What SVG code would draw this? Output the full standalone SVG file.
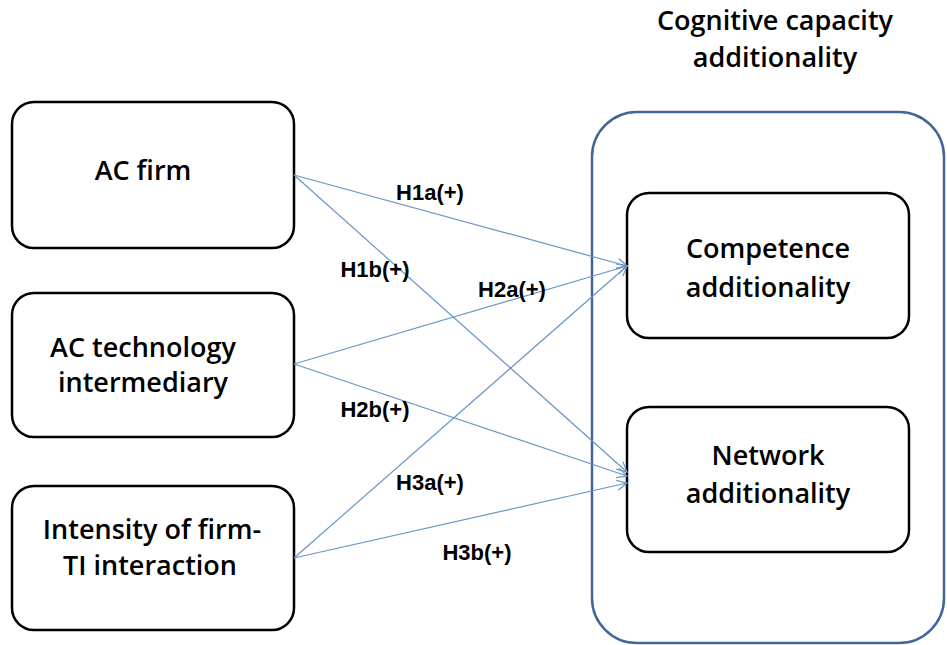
<svg xmlns="http://www.w3.org/2000/svg" width="947" height="645" viewBox="0 0 947 645">
<defs>
<style>
.box{fill:#fff;stroke:#000;stroke-width:2.5}
.cont{fill:none;stroke:#41679a;stroke-width:2.5}
.t{font-family:"Open Sans","Liberation Sans",sans-serif;font-size:27px;font-weight:600;fill:#000;text-anchor:middle}
.tt{font-family:"Open Sans","Liberation Sans",sans-serif;font-size:27px;font-weight:600;fill:#000;text-anchor:middle}
.lbl{font-family:"Liberation Sans",Arial,sans-serif;font-size:22px;font-weight:bold;fill:#000;text-anchor:middle}
.c{stroke:#6a95c5;stroke-width:1.2;fill:none;marker-end:url(#ah)}
</style>
<marker id="ah" viewBox="0 0 12 12" refX="11" refY="6" markerWidth="12" markerHeight="12" markerUnits="userSpaceOnUse" orient="auto">
<path d="M1,1 L11,6 L1,11" fill="none" stroke="#6a95c5" stroke-width="1.2"/>
</marker>
</defs>
<rect width="947" height="645" fill="#fff"/>
<g id="title">
<text class="tt" x="775" y="30">Cognitive capacity</text>
<text class="tt" x="775" y="67">additionality</text>
</g>
<g id="container">
<rect class="cont" x="592" y="112" width="352" height="531" rx="45" ry="45"/>
</g>
<g id="ac-firm">
<rect class="box" x="12" y="102" width="282" height="146" rx="22" ry="22"/>
<text class="t" x="143" y="180">AC firm</text>
</g>
<g id="ac-ti">
<rect class="box" x="12" y="293" width="282" height="144" rx="22" ry="22"/>
<text class="t" x="143" y="357">AC technology</text>
<text class="t" x="143" y="392">intermediary</text>
</g>
<g id="intensity">
<rect class="box" x="12" y="486" width="282" height="144" rx="22" ry="22"/>
<text class="t" x="152" y="539">Intensity of firm-</text>
<text class="t" x="150" y="575">TI interaction</text>
</g>
<g id="competence">
<rect class="box" x="627" y="193" width="282" height="145" rx="22" ry="22"/>
<text class="t" x="768" y="258">Competence</text>
<text class="t" x="768" y="297">additionality</text>
</g>
<g id="network">
<rect class="box" x="627" y="407" width="282" height="145" rx="22" ry="22"/>
<text class="t" x="768" y="465">Network</text>
<text class="t" x="768" y="503">additionality</text>
</g>
<g id="connectors">
<line class="c" x1="294" y1="175" x2="627" y2="266"/>
<line class="c" x1="294" y1="175" x2="627" y2="472"/>
<line class="c" x1="294" y1="364" x2="627" y2="266"/>
<line class="c" x1="294" y1="364" x2="627" y2="476"/>
<line class="c" x1="294" y1="558" x2="627" y2="266"/>
<line class="c" x1="294" y1="558" x2="627" y2="483"/>
</g>
<g id="labels">
<text class="lbl" x="430" y="200">H1a(+)</text>
<text class="lbl" x="375" y="277">H1b(+)</text>
<text class="lbl" x="512" y="297">H2a(+)</text>
<text class="lbl" x="375" y="417">H2b(+)</text>
<text class="lbl" x="430" y="490">H3a(+)</text>
<text class="lbl" x="477" y="560">H3b(+)</text>
</g>
</svg>
